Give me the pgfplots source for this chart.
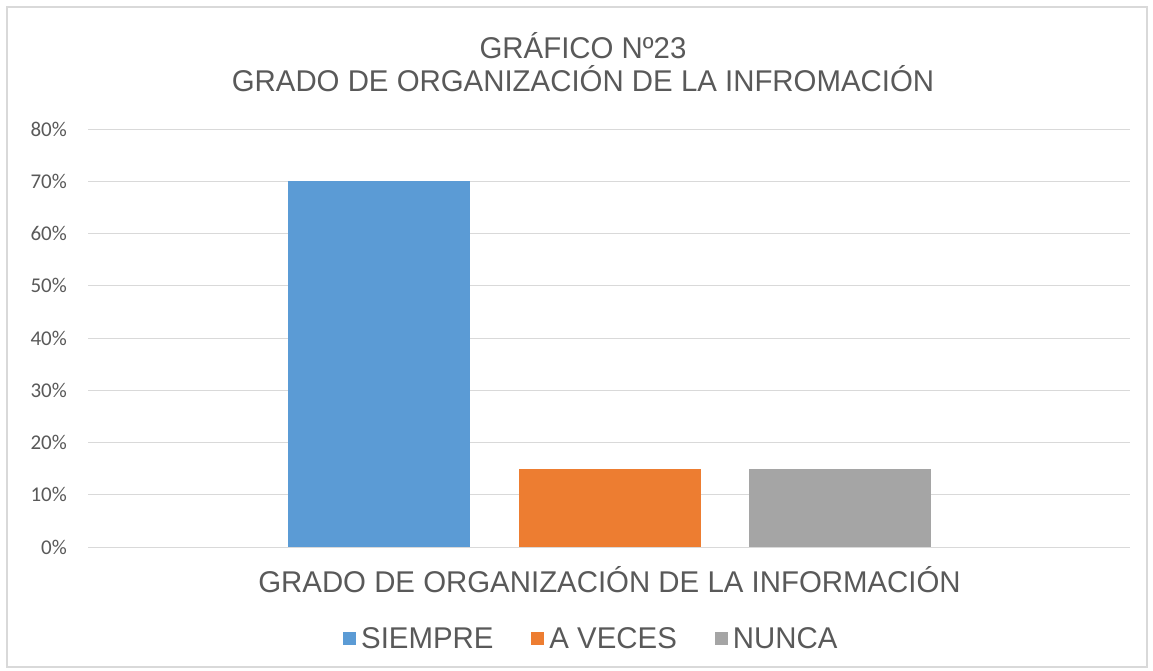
\documentclass[border=0pt]{standalone}
\usepackage{pgfplots}
\pgfplotsset{compat=1.18}
\usepackage{fontspec}
\setmainfont{Liberation Sans}
\newfontfamily\narrow[FakeStretch=0.98]{Liberation Sans}
\newfontfamily\calfont{Carlito}
\definecolor{txt}{HTML}{595959}
\definecolor{gridc}{HTML}{D9D9D9}
\definecolor{c1}{HTML}{5B9BD5}
\definecolor{c2}{HTML}{ED7D31}
\definecolor{c3}{HTML}{A5A5A5}
\begin{document}
\begin{tikzpicture}[x=1pt,y=1pt]
\useasboundingbox (0,0) rectangle (1153,670);
\draw[gridc, line width=1.5pt] (7,3) rectangle (1147,663);
\begin{axis}[
  at={(88pt,123pt)}, anchor=south west,
  scale only axis, width=1042pt, height=418pt,
  xmin=-0.26, xmax=4.255, ymin=0, ymax=80,
  ytick={0,10,...,80}, xtick=\empty,
  /pgf/number format/assume math mode=true,
  yticklabel={\pgfmathprintnumber{\tick}\%},
  yticklabel style={font=\calfont\fontsize{21}{21}\selectfont, text=txt, inner sep=0pt, xshift=-21pt},
  major tick length=0pt,
  axis line style={draw=none},
  ymajorgrids, grid style={gridc, line width=1pt},
  ybar=0pt, bar width=0.788,
  legend columns=3,
  legend style={draw=none, fill=none, at={(0.483,-0.219)}, anchor=center,
    font=\narrow\fontsize{30}{30}\selectfont, text=txt,
    /tikz/every odd column/.append style={column sep=3pt},
    /tikz/every even column/.append style={column sep=36pt}},
  legend image code/.code={\fill[#1] (0pt,-6.5pt) rectangle (13pt,6.5pt);},
]
\addplot[fill=c1, draw=none, bar shift=0pt] coordinates {(1,70)};
\addplot[fill=c2, draw=none, bar shift=0pt] coordinates {(2,15)};
\addplot[fill=c3, draw=none, bar shift=0pt] coordinates {(3,15)};
\legend{SIEMPRE, A VECES, NUNCA}
\end{axis}
\node[align=center, text=txt, font=\narrow\fontsize{30}{33}\selectfont] at (583,607.5) {GRÁFICO Nº23\\GRADO DE ORGANIZACIÓN DE LA INFROMACIÓN};
\node[text=txt, font=\narrow\fontsize{30}{30}\selectfont] at (609.5,90) {GRADO DE ORGANIZACIÓN DE LA INFORMACIÓN};
\end{tikzpicture}
\end{document}
